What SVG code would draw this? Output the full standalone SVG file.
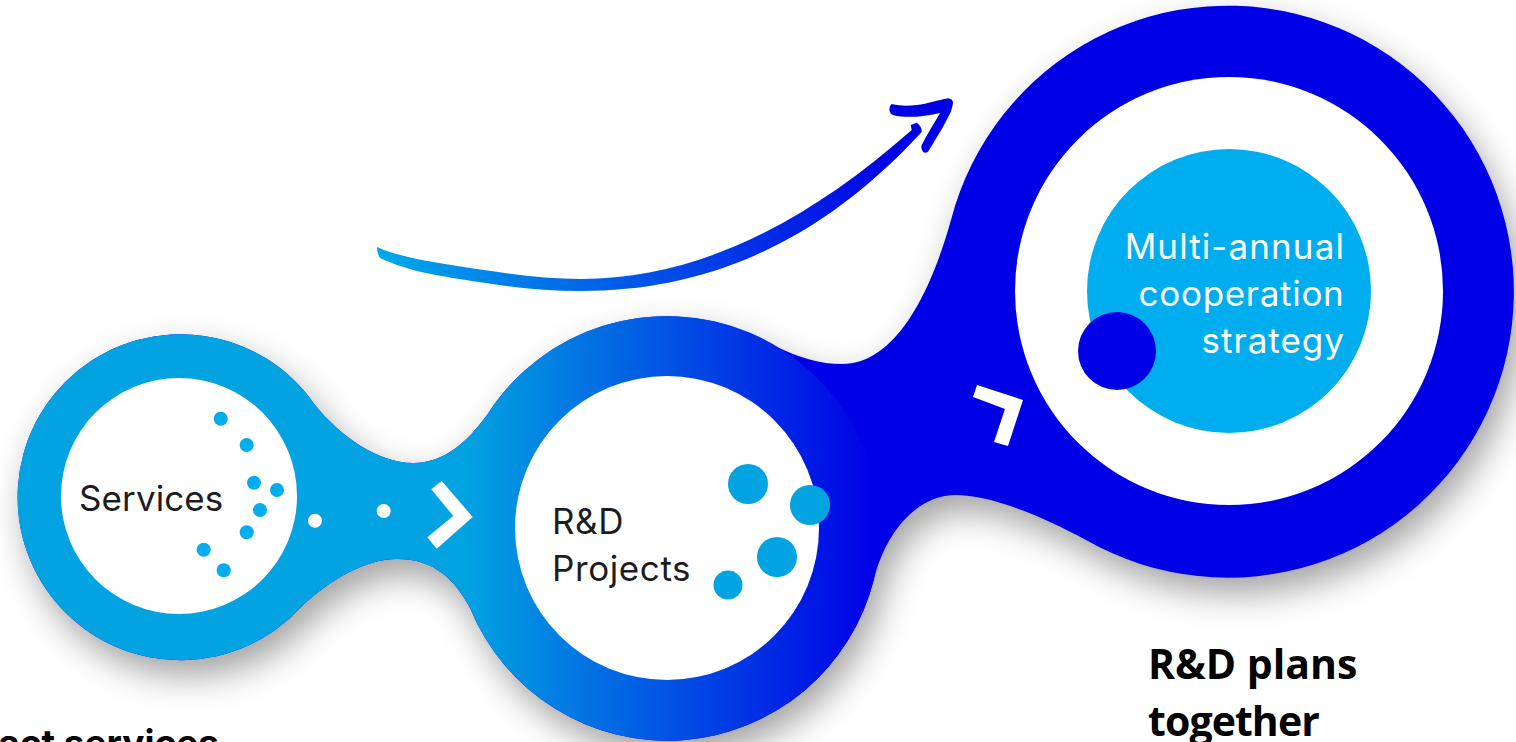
<svg xmlns="http://www.w3.org/2000/svg" width="1516" height="742" viewBox="0 0 1516 742">
<style>
.inner{fill:#fff}
.sdot{fill:#00AEEF}
.mdot{fill:#01A3E0}
.wh{fill:#fff}
.lbl{font-family:"Inter","Noto Sans",sans-serif;font-size:35px;fill:#1d1d1f;letter-spacing:.6px}
.lblw{font-family:"Inter","Noto Sans",sans-serif;font-size:35px;fill:#fff;letter-spacing:.6px;text-anchor:end}
.cap{font-family:"Open Sans","Noto Sans",sans-serif;font-size:41px;font-weight:700;fill:#000}
.cap2{font-family:"Inter","Noto Sans",sans-serif;font-size:37px;font-weight:700;fill:#000;text-anchor:end}
</style>
<defs>
<linearGradient id="midGrad" gradientUnits="userSpaceOnUse" x1="465" y1="0" x2="875" y2="0">
<stop offset="0" stop-color="#03A3E1"/><stop offset="1" stop-color="#0000E6"/>
</linearGradient>
<linearGradient id="arrGrad" gradientUnits="userSpaceOnUse" x1="377" y1="0" x2="900" y2="0">
<stop offset="0" stop-color="#00AAEA"/><stop offset="1" stop-color="#0000E6"/>
</linearGradient>
<filter id="sh" x="-10%" y="-10%" width="125%" height="130%">
<feDropShadow dx="8" dy="16" stdDeviation="17" flood-color="#000" flood-opacity=".36"/>
</filter>
</defs>
<g id="connectors">
<path id="blob" filter="url(#sh)" fill="#0000E6" d="M315,405 C340,436 378,463 413,463 C445,463 468,441 487,415 A213,213 0 0 1 775,346 C800,358 820,364 842,364 C895,364 930,295 951,220 A286,286 0 1 1 1086,540 C1040,515 990,495 956,495 C915,495 885,535 874,579 A213,213 0 0 1 470,608 C455,580 435,559 397,559 C365,559 330,580 302,606 A163,163 0 1 1 315,405 Z"/>
<path id="blob-left" fill="url(#midGrad)" d="M315,405 C340,436 378,463 413,463 C445,463 468,441 487,415 A213,213 0 0 1 874,579 A213,213 0 0 1 470,608 C455,580 435,559 397,559 C365,559 330,580 302,606 A163,163 0 1 1 315,405 Z"/>
<circle class="wh" cx="315" cy="520.7" r="7"/>
<circle class="wh" cx="383.7" cy="511" r="7"/>
<polygon class="wh" points="441.7,481 472.7,517 436.7,548.7 427.3,537.3 453.3,516 431.3,489.3"/>
<polygon class="wh" points="977,385 1023,400 1008,446 994,442 1005,409 973,397"/>
<g id="trend-arrow">
<path fill="url(#arrGrad)" d="M377,247 C395,255 415,259 439,263 C490,271 535,279 581,279 C700,279 810,220 911.7,130 L910.7,125 L916.7,122.7 C920,125 922,128 921.7,132 C815,248 700,291 581,291 C545,291 510,287 479,282 C440,276 410,272 380,258 C378,255 377,251 377,247 Z"/>
<path fill="#0000E6" d="M891.7,104 C900,106 908,106 916.7,105 C928,104 938,100 948,98.3 C951,98.5 953,100 953,103 C952,110 950,114 946.7,120 C941,131 934,142 928,151.7 C926,153 924,153 923,151.7 C921,149 921,147 921.7,145 C927,134 934,124 940,113 C932,115 925,116 916.7,116.7 C908,117 900,117 893,115 C889,114 888,107 891.7,104 Z"/>
</g>
</g>
<g id="node-services">
<circle class="inner" cx="179" cy="496" r="118"/>
<circle class="sdot" cx="220.7" cy="418.7" r="7"/>
<circle class="sdot" cx="246.7" cy="445" r="7"/>
<circle class="sdot" cx="254" cy="482.7" r="7"/>
<circle class="sdot" cx="277" cy="490" r="7"/>
<circle class="sdot" cx="260" cy="510" r="7"/>
<circle class="sdot" cx="246.7" cy="532.3" r="7"/>
<circle class="sdot" cx="203.7" cy="549.7" r="7"/>
<circle class="sdot" cx="223.7" cy="570.3" r="7"/>
<text class="lbl" x="79" y="510.5" style="letter-spacing:.1px">Services</text>
</g>
<g id="node-projects">
<circle class="inner" cx="667" cy="528" r="152"/>
<circle class="mdot" cx="748" cy="484" r="20"/>
<circle class="mdot" cx="810" cy="505" r="20"/>
<circle class="mdot" cx="777" cy="557" r="20"/>
<circle class="mdot" cx="728" cy="585" r="14.5"/>
<text class="lbl" x="552" y="534">R&amp;D</text>
<text class="lbl" x="552" y="581">Projects</text>
</g>
<g id="node-strategy">
<circle class="inner" cx="1229" cy="291" r="214"/>
<circle fill="#00AEEF" cx="1229" cy="291" r="142"/>
<circle fill="#0000E6" cx="1117" cy="351" r="39"/>
<text class="lblw" x="1345" y="259" style="letter-spacing:1.1px">Multi-annual</text>
<text class="lblw" x="1344.5" y="306" style="letter-spacing:.7px">cooperation</text>
<text class="lblw" x="1345" y="353" style="letter-spacing:1px">strategy</text>
</g>
<g id="captions">
<text class="cap2" x="219" y="756">act services</text>
<text class="cap" x="1148" y="679">R&amp;D plans</text>
<text class="cap" x="1148" y="736" style="letter-spacing:-.9px">together</text>
</g>
</svg>
